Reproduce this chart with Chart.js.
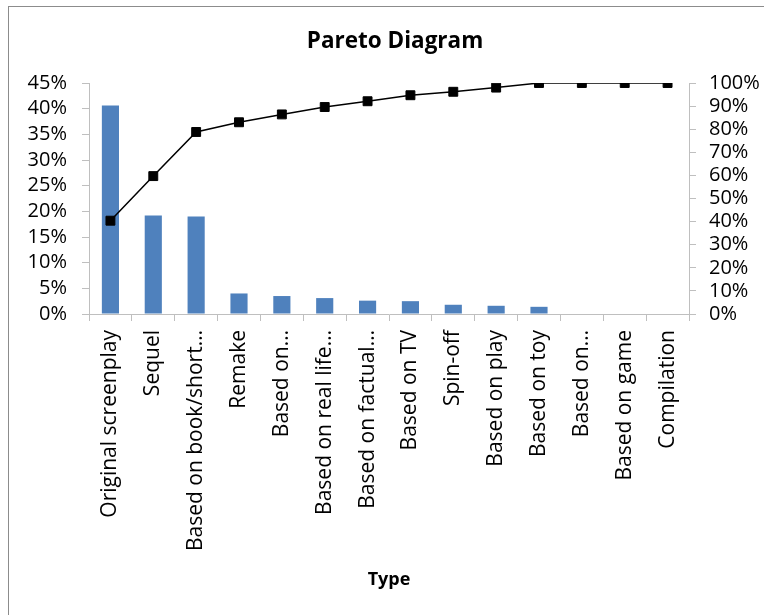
<!DOCTYPE html>
<html>
<head>
<meta charset="utf-8">
<script src="https://cdn.jsdelivr.net/npm/chart.js@4/dist/chart.umd.min.js"></script>
<style>
  html, body { margin: 0; padding: 0; background: #fff; overflow: hidden; }
  #wrap { position: relative; width: 764px; height: 615px; }
  #frame {
    position: absolute; left: 8px; top: 6px; width: 800px; height: 700px;
    border-left: 1px solid #8c8c8c; border-top: 1px solid #8c8c8c;
    pointer-events: none;
  }
</style>
</head>
<body>
<div id="wrap">
  <canvas id="pareto" width="764" height="615"></canvas>
  <div id="frame"></div>
</div>
<script>
// Categories (as truncated in the source chart)
const TYPES = [
  "Original screenplay", "Sequel", "Based on book/short…", "Remake",
  "Based on…", "Based on real life…", "Based on factual…", "Based on TV",
  "Spin-off", "Based on play", "Based on toy", "Based on…",
  "Based on game", "Compilation",
];

// Share of each type, % (left axis)
const SHARE = [40.6, 19.2, 19.0, 4.0, 3.5, 3.1, 2.6, 2.5, 1.8, 1.6, 1.4, 0, 0, 0];

// Cumulative share, % (right axis)
const CUMULATIVE = [40.4, 59.7, 78.8, 83.0, 86.4, 89.6, 92.1, 94.7, 96.2, 98.0, 100, 100, 100, 100];

const LEFT_TICKS  = { min: 0, max: 45,  step: 5 };
const RIGHT_TICKS = { min: 0, max: 100, step: 10 };

const FONT = "'Open Sans', 'DejaVu Sans', sans-serif";
const AXIS_GRAY = "#bfbfbf";

Chart.defaults.font.family = FONT;
Chart.defaults.color = "#000";

new Chart(document.getElementById("pareto"), {
  data: {
    labels: TYPES,
    datasets: [
      {
        type: "line",
        label: "Cumulative",
        data: CUMULATIVE,
        yAxisID: "y1",
        borderColor: "#000",
        borderWidth: 1.5,
        backgroundColor: "#000",
        pointStyle: "rect",
        pointRadius: 6.3,
        pointBorderWidth: 1,
        pointBorderColor: "#000",
        pointBackgroundColor: "#000",
        tension: 0,
        order: 0,
      },
      {
        type: "bar",
        label: "Share",
        data: SHARE,
        yAxisID: "y",
        backgroundColor: "#4f81bd",
        borderWidth: 0,
        barPercentage: 0.4,
        categoryPercentage: 1,
        order: 1,
      },
    ],
  },
  options: {
    responsive: false,
    animation: false,
    layout: { padding: { left: 26, right: 0, top: 0, bottom: 0 } },
    plugins: {
      legend: { display: false },
      tooltip: { enabled: false },
      title: {
        display: true,
        text: "Pareto Diagram",
        font: { size: 22.5, weight: "bold", family: FONT },
        color: "#000",
        padding: { top: 28, bottom: 28 },
      },
    },
    scales: {
      x: {
        grid: {
          drawOnChartArea: false, offset: true, tickLength: 7,
          color: AXIS_GRAY, tickColor: AXIS_GRAY,
        },
        border: { color: AXIS_GRAY },
        ticks: {
          autoSkip: false, maxRotation: 90, minRotation: 90,
          padding: 9, font: { size: 21 }, color: "#000",
        },
        title: {
          display: true, text: "Type",
          font: { size: 18, weight: "bold" }, color: "#000",
          padding: { top: 0, bottom: 24 },
        },
        afterFit: s => { s.height = 301; },
      },
      y: {
        position: "left",
        min: LEFT_TICKS.min, max: LEFT_TICKS.max,
        grid: {
          drawOnChartArea: false, tickLength: 7,
          color: AXIS_GRAY, tickColor: AXIS_GRAY,
        },
        border: { color: AXIS_GRAY },
        ticks: {
          stepSize: LEFT_TICKS.step, padding: 15, autoSkip: false,
          font: { size: 20 }, color: "#000",
          callback: v => v + "%",
        },
        afterFit: s => { s.width = 63; },
      },
      y1: {
        position: "right",
        min: RIGHT_TICKS.min, max: RIGHT_TICKS.max,
        grid: {
          drawOnChartArea: false, tickLength: 7,
          color: AXIS_GRAY, tickColor: AXIS_GRAY,
        },
        border: { color: AXIS_GRAY },
        ticks: {
          stepSize: RIGHT_TICKS.step, padding: 13, autoSkip: false,
          font: { size: 20 }, color: "#000",
          callback: v => v + "%",
        },
        afterFit: s => { s.width = 75; },
      },
    },
  },
});
</script>
</body>
</html>
